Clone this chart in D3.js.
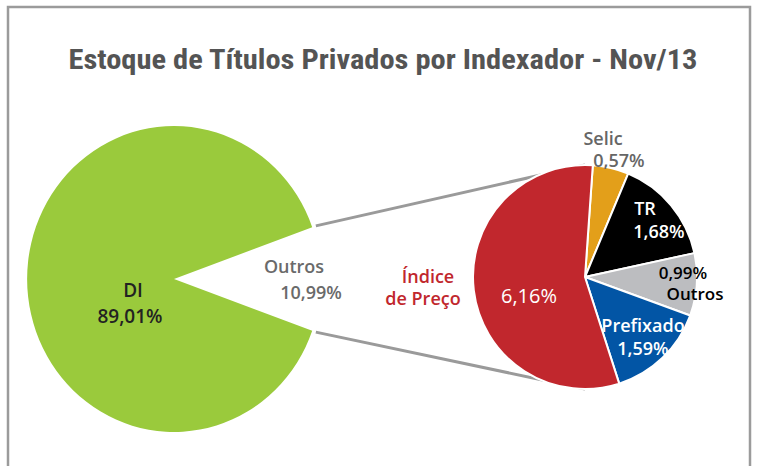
<!DOCTYPE html>
<html><head><meta charset="utf-8">
<script src="https://cdn.jsdelivr.net/npm/d3@7"></script>
<style>
html,body{margin:0;padding:0;background:#fff;}
svg{display:block;font-family:"Open Sans","Noto Sans",sans-serif;font-weight:600;}
</style></head><body>
<svg id="chart" width="758" height="466"></svg>
<script>
const title = "Estoque de Títulos Privados por Indexador - Nov/13";
const mainCategories = ["Outros", "DI"];
const mainValues = [10.99, 89.01];
const mainColors = ["none", "#9aca3c"];
const subCategories = ["Selic", "TR", "Outros", "Prefixado", "Índice de Preço"];
const subValues = [0.57, 1.68, 0.99, 1.59, 6.16];
const subColors = ["#e39f1a", "#000000", "#bcbdc0", "#0255a5", "#c1272d"];

const svg = d3.select("#chart");
svg.append("rect").attr("x", 8).attr("y", 7).attr("width", 742).attr("height", 480)
  .attr("fill", "#fff").attr("stroke", "#9b9b9b").attr("stroke-width", 2.5);

svg.append("text").attr("x", 383).attr("y", 69).attr("text-anchor", "middle")
  .attr("font-family", "'Liberation Sans Narrow','Roboto Condensed','Open Sans',sans-serif")
  .attr("font-weight", "bold")
  .attr("font-size", 28).attr("fill", "#545454")
  .attr("textLength", 629).attr("lengthAdjust", "spacingAndGlyphs").text(title);

// main pie (slightly elliptical as in the reference)
const c1 = {x: 174, y: 279}, r1 = 153, sx1 = 0.96;
const total = d3.sum(mainValues);
const outAng = mainValues[0] / total * 2 * Math.PI;
const mainArcs = d3.pie().sort(null).startAngle(Math.PI / 2 - outAng / 2).endAngle(Math.PI / 2 - outAng / 2 + 2 * Math.PI)(mainValues);
const arc1 = d3.arc().innerRadius(0).outerRadius(r1);

// sub pie
const c2 = {x: 585, y: 277}, r2 = 112;
const subStart = 4 * Math.PI / 180;
const subArcs = d3.pie().sort(null).startAngle(subStart).endAngle(subStart + 2 * Math.PI)(subValues);
const arc2 = d3.arc().innerRadius(0).outerRadius(r2);

// connector lines (drawn behind the sub pie)
const pt = (c, r, a, sx) => [c.x + sx * r * Math.sin(a), c.y - r * Math.cos(a)];
const a0 = mainArcs[0].startAngle, a1 = mainArcs[0].endAngle;
const lines = [[pt(c1, r1 + 4, a0, sx1), [c2.x, c2.y - r2]], [pt(c1, r1 + 4, a1, sx1), [c2.x, c2.y + r2]]];
svg.selectAll("line.conn").data(lines).join("line").attr("class", "conn")
  .attr("x1", d => d[0][0]).attr("y1", d => d[0][1]).attr("x2", d => d[1][0]).attr("y2", d => d[1][1])
  .attr("stroke", "#9a9a9a").attr("stroke-width", 3);

svg.append("g").attr("transform", `translate(${c1.x},${c1.y}) scale(${sx1},1)`)
  .selectAll("path").data(mainArcs).join("path")
  .attr("d", arc1).attr("fill", (d, i) => mainColors[i]);

svg.append("g").attr("transform", `translate(${c2.x},${c2.y})`)
  .selectAll("path").data(subArcs).join("path")
  .attr("d", arc2).attr("fill", (d, i) => subColors[i])
  .attr("stroke", "#fff").attr("stroke-width", 2).attr("stroke-linejoin", "round");

const fmt = v => d3.format(".2f")(v).replace(".", ",") + "%";
function label(s, x, y, fill, size, weight) {
  const t = svg.append("text").attr("x", x).attr("y", y).attr("text-anchor", "middle")
    .attr("font-size", size).attr("fill", fill).text(s);
  if (weight) t.attr("font-weight", weight);
}
label(mainCategories[1], 133, 297, "#222", 19);
label(fmt(mainValues[1]), 130, 323, "#222", 19);
label(mainCategories[0], 294, 273, "#6a6a6a", 18);
label(fmt(mainValues[0]), 311, 299, "#6a6a6a", 18);
label("Índice", 428, 283, "#c1272d", 18);
label("de Preço", 423, 305, "#c1272d", 18);
label(fmt(subValues[4]), 529, 303, "#fff", 20, "normal");
label(subCategories[0], 603, 145, "#666", 18);
label(fmt(subValues[0]), 619, 167, "#666", 18);
label(subCategories[1], 645, 215, "#fff", 18);
label(fmt(subValues[1]), 659, 238, "#fff", 18);
label(fmt(subValues[2]), 683, 279, "#000", 17);
label(subCategories[2], 695, 300, "#000", 17);
label(subCategories[3], 643, 332, "#fff", 18);
label(fmt(subValues[3]), 643, 355, "#fff", 18);
</script>
</body></html>
